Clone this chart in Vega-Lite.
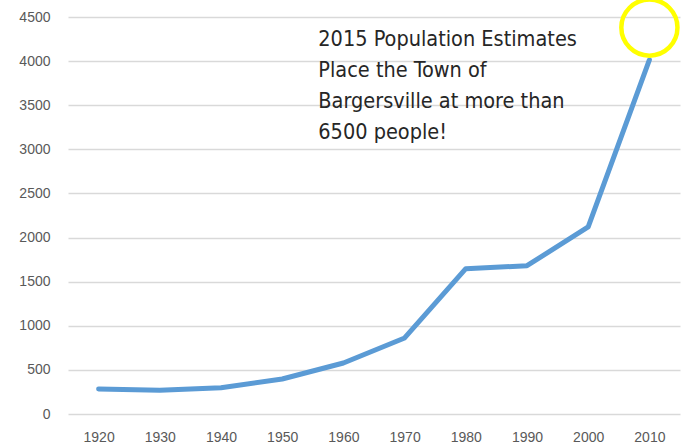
{
  "$schema": "https://vega.github.io/schema/vega-lite/v6.json",
  "autosize": "none",
  "width": 612,
  "height": 397,
  "padding": {"left": 68, "top": 17, "right": 6, "bottom": 33},
  "background": "white",
  "config": {"view": {"stroke": null}},
  "datasets": {
    "pop": [
      {"year": 1920, "population": 283},
      {"year": 1930, "population": 270},
      {"year": 1940, "population": 297},
      {"year": 1950, "population": 397},
      {"year": 1960, "population": 578},
      {"year": 1970, "population": 862},
      {"year": 1980, "population": 1647},
      {"year": 1990, "population": 1681},
      {"year": 2000, "population": 2120},
      {"year": 2010, "population": 4013}
    ],
    "note": [
      {"year": 1955.9, "population": 4360, "text": "2015 Population Estimates\nPlace the Town of\nBargersville at more than\n6500 people!"}
    ],
    "highlight": [
      {"year": 2010, "population": 4380}
    ]
  },
  "layer": [
    {
      "data": {"name": "pop"},
      "mark": {"type": "line", "color": "#5b9bd5", "strokeWidth": 5, "strokeCap": "round", "strokeJoin": "round"},
      "encoding": {
        "x": {
          "field": "year", "type": "quantitative",
          "scale": {"domain": [1915, 2015], "nice": false, "zero": false},
          "axis": {
            "values": [1920, 1930, 1940, 1950, 1960, 1970, 1980, 1990, 2000, 2010],
            "format": "d", "title": null, "grid": false, "domain": false, "ticks": false,
            "labelPadding": 16, "labelFont": "Liberation Sans", "labelFontSize": 14, "labelColor": "#595959"
          }
        },
        "y": {
          "field": "population", "type": "quantitative",
          "scale": {"domain": [0, 4500], "nice": false},
          "axis": {
            "values": [0, 500, 1000, 1500, 2000, 2500, 3000, 3500, 4000, 4500],
            "format": "d", "title": null, "domain": false, "ticks": false,
            "labelPadding": 18, "labelFont": "Liberation Sans", "labelFontSize": 14, "labelColor": "#595959",
            "gridColor": "#d9d9d9", "gridWidth": 1.5
          }
        }
      }
    },
    {
      "data": {"name": "note"},
      "mark": {"type": "text", "align": "left", "baseline": "top", "lineBreak": "\n", "lineHeight": 31, "font": "DejaVu Sans Condensed", "fontSize": 21.5, "color": "#262626"},
      "encoding": {
        "x": {"field": "year", "type": "quantitative"},
        "y": {"field": "population", "type": "quantitative"},
        "text": {"field": "text"}
      }
    },
    {
      "data": {"name": "highlight"},
      "mark": {"type": "point", "shape": "circle", "filled": false, "color": "#ffff00", "strokeWidth": 4.5, "size": 3150, "opacity": 1, "clip": false},
      "encoding": {
        "x": {"field": "year", "type": "quantitative"},
        "y": {"field": "population", "type": "quantitative"}
      }
    }
  ]
}
